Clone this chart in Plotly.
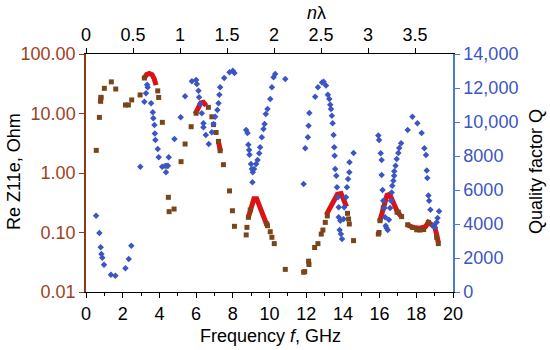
import plotly.graph_objects as go

# Quality factor Q (blue diamonds, right axis)
q_f = [0.55,0.73,0.80,0.84,0.89,0.98,1.36,1.60,2.15,2.33,2.47,2.96,3.18,3.27,3.33,3.36,3.55,3.64,3.67,3.73,
       3.75,3.78,3.91,3.96,4.15,4.36,4.36,4.47,4.51,4.82,5.16,5.40,5.77,6.00,6.04,6.13,6.16,6.22,6.31,6.40,
       6.40,6.53,6.69,6.86,6.95,7.04,7.16,7.22,7.27,7.31,7.53,7.82,8.00,8.09,8.73,8.80,8.85,8.89,8.91,8.99,
       9.04,9.09,9.07,9.16,9.27,9.35,9.44,9.49,9.58,9.67,9.73,9.80,9.89,10.04,10.13,10.22,10.31,10.86,11.86,11.95,
       12.09,12.13,12.17,12.49,12.64,12.86,12.95,13.08,13.18,13.26,13.31,13.35,13.40,13.44,13.49,13.53,13.55,13.58,13.64,13.68,
       13.73,13.77,13.77,13.86,13.82,13.89,13.95,14.04,14.07,14.17,14.22,14.28,14.35,14.36,14.58,15.93,15.97,16.06,16.11,16.11,
       16.16,16.20,16.26,16.30,16.33,16.38,16.44,16.51,16.57,16.62,16.66,16.69,16.75,16.79,16.80,16.87,16.93,17.02,17.07,17.17,
       17.53,17.79,18.06,18.29,18.44,18.53,18.57,18.60,18.66,18.70,18.77,18.93,19.02,19.11,19.16,19.24]
q_val = [4490,3470,2630,2240,2020,1610,1020,960,1390,1940,2720,7370,11190,11690,12190,12040,11100,10570,10220,9820,
         9330,8940,8410,7920,7370,7430,7040,7430,7920,9000,10280,11510,12390,12470,12230,11840,11450,11060,10510,9920,
         9690,9230,8710,9390,9880,10310,10700,11100,11600,12040,12590,12920,13020,12880,9530,9350,8660,8350,8080,7530,
         7230,7040,6450,7230,7530,7760,8160,8510,9100,9590,9880,10470,10760,11350,12040,12630,12820,12530,6350,8450,
         9100,9780,10530,11490,12040,12330,12370,12140,11600,11350,11020,10760,10370,9920,9230,8510,8020,7230,6840,6160,
         5570,4980,4390,4190,3650,3410,3120,4290,4980,5570,6160,6650,7040,7630,8180,9200,8940,8160,7760,6880,
         6000,5370,4940,4390,3900,3760,3650,4250,4940,5370,5860,6250,6550,6840,7100,7430,7820,8180,8470,8750,
         9530,10310,9920,9350,8450,8060,7140,6710,5670,5370,4840,3900,3800,4100,4350,4750]

# Re Z11e measured (brown squares, left log axis)
z_f = [0.56,0.73,0.80,0.82,1.00,1.38,1.62,2.15,2.31,2.49,2.95,3.18,3.91,3.96,4.16,4.36,4.49,4.53,4.80,5.18,
       5.40,5.73,6.00,6.67,6.86,6.95,7.09,7.22,7.31,7.49,7.82,7.98,8.09,8.73,8.77,8.85,8.95,9.85,9.89,10.04,
       10.13,10.26,10.86,11.86,11.92,12.13,12.15,12.46,12.64,12.82,12.91,13.04,13.15,14.25,14.31,14.35,14.58,15.93,15.97,16.02,
       16.2,16.95,17.02,17.2,17.53,17.79,18.02,18.2,18.4,18.66,18.95,19.11,19.2]
z_val = [2.4,8.6,16,18.7,26.5,34,25.8,13.9,13.9,16.9,20.5,39.5,24,18.6,7.1,1.31,0.39,0.224,0.248,1.55,
         3.07,6.0,10.1,12.7,8.8,6.5,4.8,3.4,2.37,1.38,0.50,0.232,0.127,0.091,0.122,0.18,0.24,0.14,0.13,0.103,
         0.083,0.065,0.024,0.0215,0.022,0.033,0.029,0.056,0.065,0.094,0.11,0.148,0.19,0.21,0.169,0.139,0.073,0.094,0.1,0.158,
         0.26,0.22,0.219,0.185,0.135,0.122,0.111,0.11,0.112,0.148,0.13,0.083,0.065]

# Re Z11e fitted curves (red)
r_f = [0.78,0.82,None,3.15,3.3,3.45,3.6,3.72,3.82,None,5.95,6.1,6.25,6.4,6.55,None,7.2,7.33,None,
       8.85,9.0,9.15,9.3,9.5,9.7,9.85,None,13.1,13.4,13.7,13.9,14.05,14.2,None,
       16.0,16.2,16.4,16.55,16.75,16.95,17.15,None,17.5,17.8,18.2,18.5,18.65,18.85,19.0,19.1,19.2]
r_z = [15,20,None,38,45,47,45,38,30,None,9.8,12.5,15,15.4,13.5,None,3.6,2.3,None,
       0.18,0.27,0.37,0.37,0.25,0.17,0.135,None,0.2,0.3,0.44,0.45,0.36,0.27,None,
       0.15,0.27,0.42,0.44,0.32,0.23,0.19,None,0.135,0.122,0.118,0.125,0.148,0.13,0.125,0.095,0.068]

left_ticks = [0.01, 0.1, 1, 10, 100]
left_text = ["0.01", "0.10", "1.00", "10.00", "100.00"]
right_ticks = [0, 2000, 4000, 6000, 8000, 10000, 12000, 14000]
right_text = ["0", "2000", "4000", "6000", "8000", "10,000", "12,000", "14,000"]
top_ticks = [0, 0.5, 1, 1.5, 2, 2.5, 3, 3.5]
top_text = ["0", "0.5", "1", "1.5", "2", "2.5", "3", "3.5"]

BROWN = "#7A4519"
RED = "#DC1214"
BLUE = "#3A56C4"
LAX = "#8B3A1E"
LTXT = "#A0421E"
RAX = "#4A7BD0"

FONT = "Liberation Sans, Arial, sans-serif"
FS = 18

# layout geometry in page pixels (body margin removed below)
L, T, PW, PH = 86, 54, 367, 238
W, H = 550, 350


def px(xr):
    return (xr - L) / PW


def py(yr):
    return (T + PH - yr) / PH


fig = go.Figure()
fig.add_trace(go.Scatter(x=q_f, y=q_val, mode="markers", yaxis="y2", xaxis="x",
                         marker=dict(symbol="diamond", size=5, color=BLUE), showlegend=False))
fig.add_trace(go.Scatter(x=r_f, y=r_z, mode="lines", xaxis="x", yaxis="y",
                         line=dict(color=RED, width=5), connectgaps=False, showlegend=False))
fig.add_trace(go.Scatter(x=z_f, y=z_val, mode="markers", xaxis="x", yaxis="y",
                         marker=dict(symbol="square", size=5, color=BROWN), showlegend=False))
fig.add_trace(go.Scatter(x=[0], y=[1], xaxis="x2", yaxis="y", mode="markers",
                         marker=dict(opacity=0), showlegend=False, hoverinfo="skip"))

fig.update_layout(
    width=W, height=H,
    margin=dict(l=L, r=W - L - PW, t=T, b=H - T - PH, autoexpand=False),
    paper_bgcolor="white", plot_bgcolor="white",
    font=dict(family=FONT, size=FS, color="black"),
    xaxis=dict(range=[0, 20], dtick=2, tick0=0, showgrid=False, zeroline=False,
               showline=True, linecolor="black", linewidth=1, ticks="outside", ticklen=5,
               tickcolor="black", tickfont=dict(size=FS),
               minor=dict(dtick=1, ticks="outside", ticklen=3, tickcolor="black")),
    xaxis2=dict(range=[0, 3.904], overlaying="x", side="top", tickvals=top_ticks, ticktext=top_text,
                showgrid=False, zeroline=False, showline=True, linecolor="black", linewidth=1,
                ticks="outside", ticklen=5, tickcolor="black", tickfont=dict(size=FS)),
    yaxis=dict(type="log", range=[-2, 2], tickvals=left_ticks, ticktext=left_text,
               showgrid=False, zeroline=False, showline=True, linecolor=LAX, linewidth=1.5,
               ticks="outside", ticklen=5, tickcolor=LAX, tickfont=dict(size=FS, color=LTXT)),
    yaxis2=dict(range=[0, 14000], overlaying="y", side="right", tickvals=right_ticks, ticktext=right_text,
                showgrid=False, zeroline=False, showline=True, linecolor=RAX, linewidth=1.5,
                ticks="outside", ticklen=5, tickcolor=RAX, tickfont=dict(size=FS, color=BLUE)),
    annotations=[
        dict(text="<i>n</i>λ", x=px(316), y=py(13), xref="paper", yref="paper", showarrow=False,
             xanchor="center", yanchor="middle", font=dict(size=FS)),
        dict(text="Frequency <i>f</i>, GHz", x=px(270), y=py(336), xref="paper", yref="paper",
             showarrow=False, xanchor="center", yanchor="middle", font=dict(size=FS)),
        dict(text="Re Z11e, Ohm", x=px(14), y=py(172), xref="paper", yref="paper", textangle=-90,
             showarrow=False, xanchor="center", yanchor="middle", font=dict(size=FS)),
        dict(text="Quality factor Q", x=px(536), y=py(172), xref="paper", yref="paper", textangle=-90,
             showarrow=False, xanchor="center", yanchor="middle", font=dict(size=FS)),
    ],
)

fig.write_html("out.html", config={"displayModeBar": False},
               post_script="document.body.style.margin='0';")
